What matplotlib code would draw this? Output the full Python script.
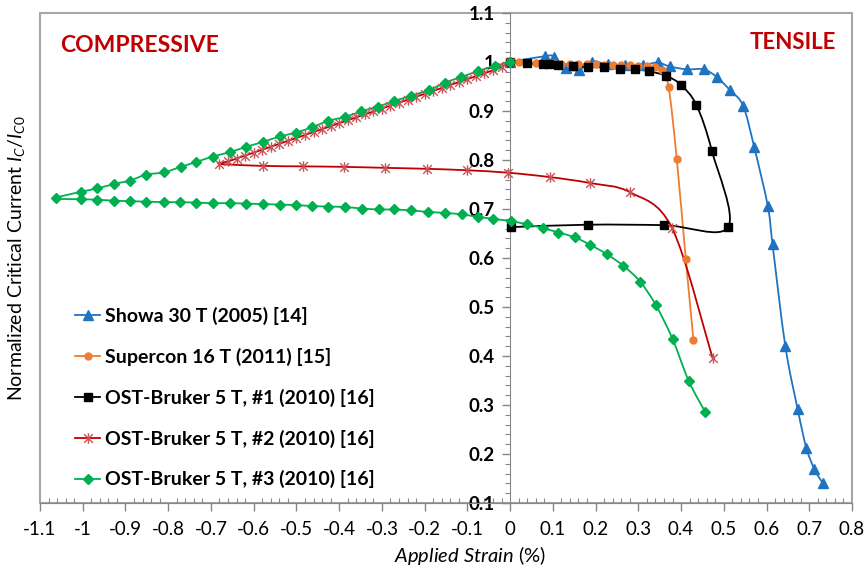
import numpy as np
import matplotlib
matplotlib.use('Agg')
from matplotlib import pyplot as plt
from matplotlib.path import Path
import matplotlib.patches as patches
from matplotlib.ticker import MultipleLocator
#
plt.rcParams['font.family'] = ['Lato', 'DejaVu Sans']
plt.rcParams['mathtext.fontset'] = 'custom'
plt.rcParams['mathtext.rm'] = 'Lato'
plt.rcParams['mathtext.it'] = 'Lato:italic'
#
# ----------------------------------------------------
# Data
showa_x = [0.0, 0.082, 0.102, 0.131, 0.162, 0.191, 0.23, 0.27, 0.31, 0.345, 0.373,
           0.413, 0.453, 0.484, 0.514, 0.545, 0.571, 0.603, 0.614, 0.644, 0.673,
           0.693, 0.712, 0.732]
showa_y = [1.0, 1.012, 1.011, 0.987, 0.984, 1.001, 0.995, 0.993, 0.993, 0.999, 0.991,
           0.985, 0.985, 0.969, 0.943, 0.911, 0.827, 0.706, 0.628, 0.420, 0.291,
           0.213, 0.169, 0.140]

supercon_x = [0.0, 0.02, 0.04, 0.06, 0.08, 0.10, 0.12, 0.14, 0.16, 0.18, 0.20, 0.22,
              0.24, 0.26, 0.28, 0.30, 0.32, 0.34, 0.355, 0.371, 0.390, 0.411, 0.429]
supercon_y = [1.0, 0.999, 0.998, 0.998, 0.997, 0.997, 0.996, 0.996, 0.995, 0.995,
              0.995, 0.994, 0.994, 0.993, 0.993, 0.992, 0.991, 0.989, 0.984, 0.948,
              0.802, 0.598, 0.433]

ost1_x = [0.0, 0.039, 0.077, 0.092, 0.112, 0.148, 0.183, 0.219, 0.256, 0.293, 0.326,
          0.364, 0.399, 0.436, 0.472, 0.510, 0.361, 0.183, 0.003]
ost1_y = [1.0, 0.997, 0.996, 0.996, 0.993, 0.992, 0.990, 0.989, 0.986, 0.985, 0.981,
          0.972, 0.954, 0.912, 0.819, 0.663, 0.667, 0.668, 0.663]

ost2_x = [0.0, -0.02, -0.04, -0.06, -0.08, -0.10, -0.12, -0.14, -0.16, -0.18, -0.20,
          -0.22, -0.24, -0.26, -0.28, -0.30, -0.32, -0.34, -0.36, -0.38, -0.40, -0.42,
          -0.44, -0.46, -0.48, -0.50, -0.52, -0.54, -0.56, -0.58, -0.60, -0.62, -0.64,
          -0.66, -0.68,
          -0.578, -0.484, -0.389, -0.293, -0.195, -0.100, -0.004, 0.094, 0.187, 0.281,
          0.379, 0.474]
ost2_y = [1.0, 0.990, 0.983, 0.977, 0.971, 0.965, 0.959, 0.953, 0.947, 0.941, 0.935,
          0.929, 0.923, 0.917, 0.911, 0.905, 0.899, 0.893, 0.887, 0.881, 0.875, 0.869,
          0.863, 0.857, 0.851, 0.845, 0.839, 0.833, 0.827, 0.821, 0.815, 0.809, 0.803,
          0.797, 0.792,
          0.788, 0.787, 0.786, 0.784, 0.782, 0.779, 0.774, 0.765, 0.753, 0.734,
          0.661, 0.395]

ost3_x = [0.0, -0.035, -0.074, -0.115, -0.152, -0.189, -0.233, -0.271, -0.310, -0.349,
          -0.386, -0.425, -0.463, -0.501, -0.539, -0.578, -0.617, -0.656, -0.696,
          -0.734, -0.771, -0.809, -0.852, -0.890, -0.927, -0.966, -1.005, -1.063,
          -1.005, -0.966, -0.927, -0.890, -0.851, -0.810, -0.773, -0.734, -0.696,
          -0.656, -0.617, -0.578, -0.539, -0.501, -0.463, -0.425, -0.386, -0.347,
          -0.307, -0.271, -0.232, -0.191, -0.152, -0.113, -0.076, -0.039, 0.002,
          0.039, 0.077, 0.113, 0.152, 0.187, 0.226, 0.265, 0.304, 0.341, 0.380,
          0.418, 0.457]
ost3_y = [1.0, 0.992, 0.982, 0.969, 0.958, 0.943, 0.931, 0.920, 0.909, 0.899,
          0.888, 0.880, 0.867, 0.856, 0.848, 0.837, 0.827, 0.816, 0.807,
          0.796, 0.786, 0.775, 0.770, 0.758, 0.751, 0.742, 0.735, 0.722,
          0.720, 0.719, 0.717, 0.716, 0.715, 0.714, 0.714, 0.713, 0.712,
          0.712, 0.711, 0.710, 0.709, 0.708, 0.706, 0.705, 0.704, 0.701,
          0.699, 0.699, 0.697, 0.694, 0.692, 0.689, 0.684, 0.680, 0.675,
          0.669, 0.661, 0.652, 0.642, 0.627, 0.608, 0.584, 0.552, 0.504, 0.435,
          0.349, 0.285]

labels = ['Showa 30 T (2005) [14]', 'Supercon 16 T (2011) [15]',
          'OST-Bruker 5 T, #1 (2010) [16]', 'OST-Bruker 5 T, #2 (2010) [16]',
          'OST-Bruker 5 T, #3 (2010) [16]']
#
# ----------------------------------------------------
def smooth_path(xs, ys):
    # Excel style smoothed line: Catmull-Rom as cubic Bezier segments
    pts = np.column_stack([xs, ys]).astype(float)
    verts = [pts[0]]
    codes = [Path.MOVETO]
    n = len(pts)
    for i in range(n - 1):
        p0 = pts[i - 1] if i > 0 else pts[i]
        p1 = pts[i]
        p2 = pts[i + 1]
        p3 = pts[i + 2] if i + 2 < n else pts[i + 1]
        verts += [p1 + (p2 - p0) / 6.0, p2 - (p3 - p1) / 6.0, p2]
        codes += [Path.CURVE4] * 3
    return Path(verts, codes)

# asterisk marker: x plus vertical bar
star = Path([(-1, -1), (1, 1), (-1, 1), (1, -1), (0, -1.2), (0, 1.2)],
            [Path.MOVETO, Path.LINETO, Path.MOVETO, Path.LINETO, Path.MOVETO, Path.LINETO])

series = [
    (showa_x, showa_y, '#1F74C2', dict(marker='^', ms=7.5, mfc='#1F74C2', mec='#1F74C2')),
    (supercon_x, supercon_y, '#ED7D31', dict(marker='o', ms=5, mfc='#ED7D31', mec='#ED7D31')),
    (ost1_x, ost1_y, 'black', dict(marker='s', ms=5.5, mfc='black', mec='black')),
    (ost2_x, ost2_y, '#C00000', dict(marker=star, ms=7.5, mfc='none', mec='#C8545A', mew=1.0)),
    (ost3_x, ost3_y, '#00B050', dict(marker='D', ms=5.5, mfc='#00B050', mec='#00B050')),
]
#
fig = plt.figure(figsize=(8.66, 5.71), dpi=100)
ax = fig.add_axes([40 / 866, 68 / 571, 812 / 866, 490 / 571])
#
for (xs, ys, col, mk), lab in zip(series, labels):
    ax.add_patch(patches.PathPatch(smooth_path(xs, ys), fill=False, edgecolor=col,
                                   lw=1.3, zorder=3))
    ax.plot(xs, ys, ls='none', zorder=4, **mk)
    ax.plot([], [], color=col, lw=1.3, label=lab, **mk)
#
ax.set_xlim(-1.1, 0.8)
ax.set_ylim(0.1, 1.1)
ax.xaxis.set_minor_locator(MultipleLocator(0.02))
ax.yaxis.set_minor_locator(MultipleLocator(0.02))
ax.set_xticks(np.arange(-1.1, 0.81, 0.1))
ax.set_xticklabels(['-1.1', '-1', '-0.9', '-0.8', '-0.7', '-0.6', '-0.5', '-0.4', '-0.3',
                    '-0.2', '-0.1', '0', '0.1', '0.2', '0.3', '0.4', '0.5', '0.6', '0.7',
                    '0.8'])
ax.set_yticks(np.arange(0.1, 1.11, 0.1))
ax.set_yticklabels(['0.1', '0.2', '0.3', '0.4', '0.5', '0.6', '0.7', '0.8', '0.9', '1',
                    '1.1'])
#
# y axis crosses at x = 0, frame drawn separately
ax.spines['left'].set_position(('data', 0))
ax.spines['left'].set_color('#868686')
ax.spines['bottom'].set_color('#868686')
ax.spines['right'].set_visible(False)
ax.spines['top'].set_visible(False)
ax.add_patch(patches.Rectangle((0, 0), 1, 1, transform=ax.transAxes, fill=False,
                               edgecolor='#A6A6A6', lw=1.5, zorder=0, clip_on=False))
#
ax.tick_params(axis='x', which='major', direction='out', length=6, width=1,
               color='#868686', pad=7, labelsize=13.5)
ax.tick_params(axis='x', which='minor', direction='in', length=3.5, width=0.8,
               color='#868686')
ax.tick_params(axis='y', which='major', direction='out', length=6, width=1,
               color='#868686', pad=5, labelsize=13.5)
ax.tick_params(axis='y', which='minor', direction='out', length=3.5, width=0.8,
               color='#868686')
for t in ax.get_yticklabels():
    t.set_fontweight('bold')
#
ax.set_xlabel(r'$\mathit{Applied\ Strain}$ (%)', fontsize=14.5)
ax.xaxis.set_label_coords(0.53, -0.083)
ax.set_ylabel(r'Normalized Critical Current $\mathit{I_C/I_{C0}}$', fontsize=14)
ax.yaxis.set_label_coords(-0.016, 0.5)
#
ax.text(-1.053, 1.033, 'COMPRESSIVE', color='#C00000', fontsize=16.5, fontweight='bold',
        ha='left', va='center')
ax.text(0.763, 1.039, 'TENSILE', color='#C00000', fontsize=16, fontweight='bold',
        ha='right', va='center')
#
leg = ax.legend(loc='upper left', bbox_to_anchor=(0.043, 0.40), frameon=False,
                prop={'weight': 'bold', 'size': 14}, handlelength=1.3,
                handletextpad=0.25, labelspacing=1.17, borderpad=0, borderaxespad=0)
#
fig.savefig('out.png', dpi=100)
